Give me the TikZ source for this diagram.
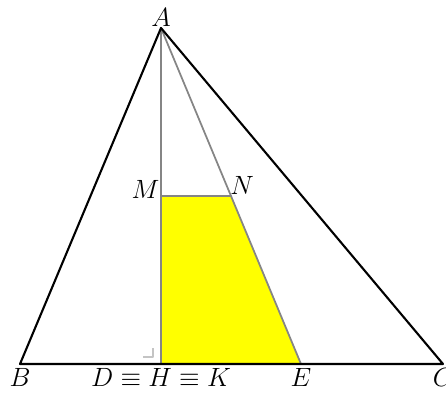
\documentclass[tikz,border=0pt]{standalone}
\usetikzlibrary{calc,positioning}
\definecolor{trapYellow}{HTML}{FFFF00}
\definecolor{auxGray}{HTML}{858585}
\definecolor{markGray}{HTML}{C4C4C4}

\begin{document}
\begin{tikzpicture}[x=0.4545pt,y=-0.4545pt,line cap=round,line join=round]
\useasboundingbox (0,0) rectangle (446,394);
\tikzset{side/.style={draw=black,line width=0.95pt},aux/.style={draw=auxGray,line width=0.8pt},rightmark/.style={draw=markGray,line width=0.7pt,line cap=butt},lbl/.style={inner sep=1.5pt,font=\large}}
\coordinate (A) at (161,28);
\coordinate (B) at (20,364);
\coordinate (C) at (443,364);
\coordinate (D) at (161,364);
\coordinate (E) at (301,364);
\coordinate (M) at ($(A)!0.5!(D)$);
\coordinate (N) at ($(A)!0.5!(E)$);
\fill[trapYellow] (M) -- (N) -- (E) -- (D) -- cycle;
\draw[aux] (A) -- (D);
\draw[aux] (A) -- (E);
\draw[aux] (M) -- (N);
\draw[rightmark] ($(D)+(-18,-7)$) -- ($(D)+(-8,-7)$) -- ($(D)+(-8,-16)$);
\draw[side] (A) -- (B) -- (C) -- cycle;
\node[lbl,above=-1pt of A] (lblA) {$A$};
\node[lbl,below=0.5pt of B] (lblB) {$B$};
\node[lbl,below=0.5pt of C] (lblC) {$C$};
\node[lbl,below=0.5pt of D] (lblD) {$D\equiv H\equiv K$};
\node[lbl,below=0.5pt of E] (lblE) {$E$};
\node[lbl,above left=-3pt and -1pt of M] (lblM) {$M$};
\node[lbl,above right=-1pt and -2pt of N] (lblN) {$N$};
\end{tikzpicture}
\end{document}
